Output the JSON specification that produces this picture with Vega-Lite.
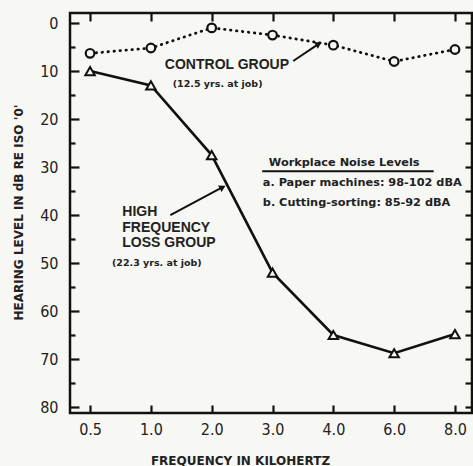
{
  "$schema": "https://vega.github.io/schema/vega-lite/v6.json",
  "width": 402,
  "height": 400,
  "autosize": {"type": "none"},
  "padding": {"left": 70, "top": 13, "right": 1, "bottom": 53},
  "background": "#f7f7f4",
  "config": {
    "view": {"stroke": "#111", "strokeWidth": 2.5},
    "axis": {"domain": false, "grid": false, "tickColor": "#111", "tickWidth": 2.2, "labelColor": "#222", "titleColor": "#222"}
  },
  "datasets": {
    "hearing": [
      {"group": "Control", "freq": "0.5", "x": 0, "y": 6.3},
      {"group": "Control", "freq": "1.0", "x": 1, "y": 5.2},
      {"group": "Control", "freq": "2.0", "x": 2, "y": 1.0},
      {"group": "Control", "freq": "3.0", "x": 3, "y": 2.5},
      {"group": "Control", "freq": "4.0", "x": 4, "y": 4.6},
      {"group": "Control", "freq": "6.0", "x": 5, "y": 8.0},
      {"group": "Control", "freq": "8.0", "x": 6, "y": 5.5},
      {"group": "High frequency loss", "freq": "0.5", "x": 0, "y": 10.0},
      {"group": "High frequency loss", "freq": "1.0", "x": 1, "y": 13.0},
      {"group": "High frequency loss", "freq": "2.0", "x": 2, "y": 27.5},
      {"group": "High frequency loss", "freq": "3.0", "x": 3, "y": 52.0},
      {"group": "High frequency loss", "freq": "4.0", "x": 4, "y": 65.0},
      {"group": "High frequency loss", "freq": "6.0", "x": 5, "y": 68.8},
      {"group": "High frequency loss", "freq": "8.0", "x": 6, "y": 64.8}
    ],
    "bigText": [
      {"text": "CONTROL GROUP", "x": 1.23, "y": 8.75},
      {"text": "HIGH", "x": 0.53, "y": 39.4},
      {"text": "FREQUENCY", "x": 0.53, "y": 42.6},
      {"text": "LOSS GROUP", "x": 0.53, "y": 45.8}
    ],
    "smallText": [
      {"text": "(12.5 yrs. at job)", "x": 1.36, "y": 12.6},
      {"text": "(22.3 yrs. at job)", "x": 0.36, "y": 49.9}
    ],
    "noiseText": [
      {"text": "Workplace Noise Levels", "x": 2.94, "y": 29.2},
      {"text": "a. Paper machines: 98-102 dBA", "x": 2.84, "y": 33.3},
      {"text": "b. Cutting-sorting: 85-92 dBA", "x": 2.84, "y": 37.5}
    ],
    "lines": [
      {"what": "underline", "x": 2.83, "y": 30.9, "x2": 5.65, "y2": 30.9},
      {"what": "control arrow", "x": 3.34, "y": 7.9, "x2": 3.76, "y2": 4.35},
      {"what": "loss arrow", "x": 1.32, "y": 40.0, "x2": 2.18, "y2": 34.2}
    ],
    "heads": [
      {"what": "control arrow", "x": 3.76, "y": 4.35, "angle": 60},
      {"what": "loss arrow", "x": 2.18, "y": 34.2, "angle": 62}
    ]
  },
  "encoding": {
    "x": {"field": "x", "type": "quantitative", "scale": {"domain": [-0.33, 6.28], "nice": false, "zero": false}, "axis": null},
    "y": {"field": "y", "type": "quantitative", "scale": {"domain": [-2.1, 81.25], "nice": false, "zero": false, "reverse": true}, "axis": null}
  },
  "layer": [
    {
      "data": {"name": "hearing"},
      "transform": [{"filter": "datum.group === 'Control'"}],
      "mark": {"type": "line", "color": "#111", "strokeWidth": 2.8, "strokeDash": [0.5, 5.5], "strokeCap": "round"},
      "encoding": {
        "x": {"field": "x", "type": "quantitative", "scale": {"domain": [-0.33, 6.28], "nice": false, "zero": false},
          "axis": {"orient": "bottom", "offset": -8, "values": [0, 1, 2, 3, 4, 5, 6], "labelExpr": "['0.5','1.0','2.0','3.0','4.0','6.0','8.0'][datum.value]", "tickSize": 8, "labelPadding": 8, "labelFont": "DejaVu Sans Condensed", "labelFontSize": 16, "title": "FREQUENCY IN KILOHERTZ", "titleFont": "DejaVu Sans", "titleFontWeight": "bold", "titleFontSize": 12, "titleX": 170, "titleY": 55, "titleBaseline": "middle", "titleAlign": "center"}},
        "y": {"field": "y", "type": "quantitative", "scale": {"domain": [-2.1, 81.25], "nice": false, "zero": false, "reverse": true},
          "axis": {"orient": "left", "offset": -9, "values": [0, 10, 20, 30, 40, 50, 60, 70, 80], "tickSize": 9, "labelPadding": 12, "labelFont": "DejaVu Sans Condensed", "labelFontSize": 16, "labelBaseline": "middle", "title": "HEARING LEVEL IN dB RE ISO '0'", "titleFont": "DejaVu Sans", "titleFontWeight": "bold", "titleFontSize": 12, "titleX": -61, "titleY": 199, "titleBaseline": "middle", "titleAlign": "center", "titleAngle": -90}}
      }
    },
    {
      "data": {"name": "hearing"},
      "transform": [{"filter": "datum.group === 'Control'"}],
      "mark": {"type": "rule", "opacity": 0},
      "encoding": {
        "x": {"field": "x", "type": "quantitative", "scale": {"domain": [-0.33, 6.28], "nice": false, "zero": false},
          "axis": {"orient": "top", "offset": -8, "values": [0, 1, 2, 3, 4, 5, 6], "labels": false, "tickSize": 8, "title": null}},
        "y": {"field": "y", "type": "quantitative", "scale": {"domain": [-2.1, 81.25], "nice": false, "zero": false, "reverse": true},
          "axis": {"orient": "right", "offset": -7, "values": [0, 5, 10, 15, 20, 25, 30, 35, 40, 45, 50, 55, 60, 65, 70, 75, 80], "labels": false, "tickSize": 7, "title": null}}
      }
    },
    {
      "data": {"name": "hearing"},
      "transform": [{"filter": "datum.group === 'Control'"}],
      "mark": {"type": "rule", "opacity": 0},
      "encoding": {
        "y": {"field": "y", "type": "quantitative", "scale": {"domain": [-2.1, 81.25], "nice": false, "zero": false, "reverse": true},
          "axis": {"orient": "left", "offset": -5, "values": [5, 15, 25, 35, 45, 55, 65, 75], "labels": false, "tickSize": 5, "title": null}}
      }
    },
    {
      "data": {"name": "hearing"},
      "transform": [{"filter": "datum.group === 'High frequency loss'"}],
      "mark": {"type": "line", "color": "#111", "strokeWidth": 2.6}
    },
    {
      "data": {"name": "hearing"},
      "transform": [{"filter": "datum.group === 'Control'"}],
      "mark": {"type": "point", "shape": "circle", "size": 75, "fill": "#f7f7f4", "stroke": "#111", "strokeWidth": 2.2, "opacity": 1}
    },
    {
      "data": {"name": "hearing"},
      "transform": [{"filter": "datum.group === 'High frequency loss'"}],
      "mark": {"type": "point", "shape": "triangle-up", "size": 90, "fill": "#f7f7f4", "stroke": "#111", "strokeWidth": 2, "opacity": 1}
    },
    {
      "data": {"name": "lines"},
      "mark": {"type": "rule", "color": "#111", "strokeWidth": 2},
      "encoding": {"x2": {"field": "x2"}, "y2": {"field": "y2"}}
    },
    {
      "data": {"name": "heads"},
      "mark": {"type": "point", "shape": "triangle-up", "size": 55, "filled": true, "color": "#111", "opacity": 1},
      "encoding": {"angle": {"field": "angle", "type": "quantitative", "scale": null}}
    },
    {
      "data": {"name": "bigText"},
      "mark": {"type": "text", "align": "left", "baseline": "middle", "font": "Liberation Sans", "fontWeight": "bold", "fontSize": 14, "color": "#222"},
      "encoding": {"text": {"field": "text"}}
    },
    {
      "data": {"name": "smallText"},
      "mark": {"type": "text", "align": "left", "baseline": "middle", "font": "DejaVu Sans", "fontWeight": "bold", "fontSize": 9.5, "color": "#222"},
      "encoding": {"text": {"field": "text"}}
    },
    {
      "data": {"name": "noiseText"},
      "mark": {"type": "text", "align": "left", "baseline": "middle", "font": "DejaVu Sans", "fontWeight": "bold", "fontSize": 11.3, "color": "#222"},
      "encoding": {"text": {"field": "text"}}
    }
  ],
  "resolve": {"axis": {"x": "independent", "y": "independent"}}
}
